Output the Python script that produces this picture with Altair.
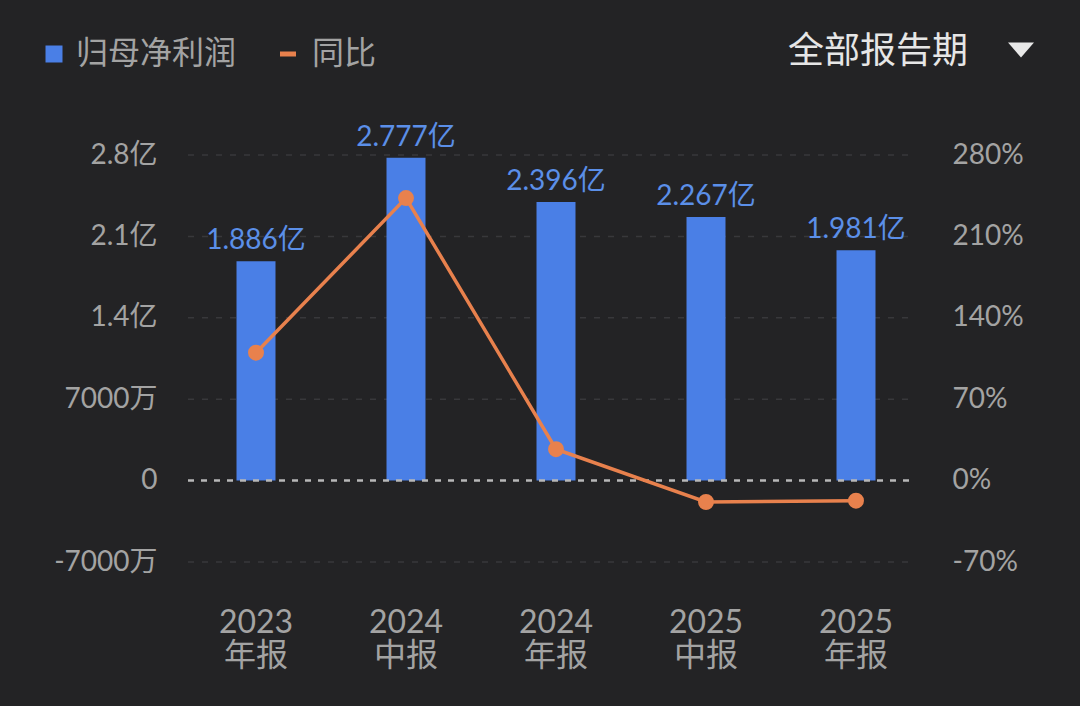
import altair as alt
import pandas as pd

# ---- data ----
periods = ["2023 年报", "2024 中报", "2024 年报", "2025 中报", "2025 年报"]
profit = [1.886, 2.777, 2.396, 2.267, 1.981]          # 亿
profit_labels = ["1.886亿", "2.777亿", "2.396亿", "2.267亿", "1.981亿"]
yoy = [110.0, 243.0, 27.0, -18.4, -17.3]              # %
left_ticks = [-0.7, 0, 0.7, 1.4, 2.1, 2.8]
right_ticks = [-70, 0, 70, 140, 210, 280]
grid_vals = [-0.7, 0.7, 1.4, 2.1, 2.8]
zero_vals = [0]
dropdown = ["▼"]

FONT = "Lato, 'Noto Sans CJK SC'"
CJK = "Noto Sans CJK SC"
BG = "#232325"
BLUE = "#4a7fe6"
LABEL_BLUE = "#5b8fe8"
ORANGE = "#e8814d"
GRAY = "#a3a3a3"

df = pd.DataFrame({
    "period": periods,
    "profit": profit,
    "label": profit_labels,
    "yoy": yoy,
    "s1": ["归母净利润"] * len(periods),
    "s2": ["同比"] * len(periods),
})
grid_df = pd.DataFrame({"profit": grid_vals})
zero_df = pd.DataFrame({"profit": zero_vals})
dd_df = pd.DataFrame({"t": dropdown})

x = alt.X(
    "period:N", sort=periods,
    scale=alt.Scale(paddingInner=0, paddingOuter=0),
    axis=alt.Axis(title=None, labelExpr="split(datum.label, ' ')", labelAngle=0,
                  labelFontSize=32, labelColor=GRAY, labelFont=FONT,
                  labelLineHeight=33, labelPadding=45, labelBaseline="top",
                  domain=False, ticks=False, grid=False),
)

yL = alt.Y(
    "profit:Q",
    scale=alt.Scale(domain=[-0.7, 2.8], nice=False, zero=False),
    axis=alt.Axis(title=None, values=left_ticks, grid=False, domain=False, ticks=False,
                  labelPadding=24, labelFontSize=28, labelColor=GRAY, labelFont=FONT,
                  labelExpr="datum.value == 0 ? '0' : (abs(datum.value) < 1 ? (datum.value < 0 ? '-' : '') + format(abs(datum.value)*10000, 'd') + '万' : format(datum.value, '.1f') + '亿')"),
)

yR = alt.Y(
    "yoy:Q",
    scale=alt.Scale(domain=[-70, 280], nice=False, zero=False),
    axis=alt.Axis(title=None, orient="right", values=right_ticks, grid=False, domain=False,
                  ticks=False, labelPadding=21, labelFontSize=28, labelColor=GRAY,
                  labelFont=FONT, labelExpr="datum.value + '%'"),
)

grid = alt.Chart(grid_df).mark_rule(color="#38383b", strokeWidth=1.5, strokeDash=[6, 8]).encode(
    y=yL, x=alt.value(7), x2=alt.value(734)
)

bars = alt.Chart(df).mark_bar(size=39).encode(
    x=x, y=yL,
    fill=alt.Fill("s1:N", scale=alt.Scale(domain=["归母净利润"], range=[BLUE]),
                  legend=alt.Legend(orient="none", legendX=-143, legendY=-117, title=None,
                                    symbolType="square", symbolSize=289, labelFontSize=32,
                                    labelLimit=400,
                                    labelColor=GRAY, labelFont=CJK, padding=0, labelOffset=6)),
)

zero = alt.Chart(zero_df).mark_rule(color="#b8b8b8", strokeWidth=2.5, strokeDash=[6, 7]).encode(
    y=yL, x=alt.value(7), x2=alt.value(734)
)

texts = alt.Chart(df).mark_text(dy=-12, baseline="alphabetic", fontSize=28, color=LABEL_BLUE,
                                font=FONT).encode(x=x, y=yL, text="label:N")

tri = alt.Chart(dd_df).mark_point(
    shape="M-1,-0.58L1,-0.58L0,0.58Z", filled=True, color="#e8e8e8", opacity=1, size=676
).encode(x=alt.value(840), y=alt.value(-105))

left = alt.layer(grid, bars, zero, texts, tri)

line = alt.Chart(df).mark_line(strokeWidth=3.5).encode(
    x=x, y=yR,
    stroke=alt.Stroke("s2:N", scale=alt.Scale(domain=["同比"], range=[ORANGE]),
                      legend=alt.Legend(orient="none", legendX=91, legendY=-117, title=None,
                                        symbolType="stroke", symbolSize=256, symbolStrokeWidth=5,
                                        labelFontSize=32, labelColor=GRAY, labelFont=CJK,
                                        labelLimit=400,
                                        padding=0, labelOffset=8)),
)
pts = alt.Chart(df).mark_circle(size=254, color=ORANGE, opacity=1).encode(x=x, y=yR)

right = alt.layer(line, pts)

chart = alt.layer(left, right).resolve_scale(y="independent").properties(
    width=750, height=407,
    padding={"left": 181, "top": 155, "right": 149, "bottom": 144},
    autosize=alt.AutoSizeParams(type="none"),
    title=alt.TitleParams("全部报告期", anchor="end", frame="group", dx=37, dy=50, offset=0,
                          fontSize=36, color="#e6e6e6", font=CJK, fontWeight="normal",
                          baseline="middle"),
).configure(background=BG).configure_view(stroke=None)

chart.save("out.html", embed_options={"renderer": "svg", "actions": False})
